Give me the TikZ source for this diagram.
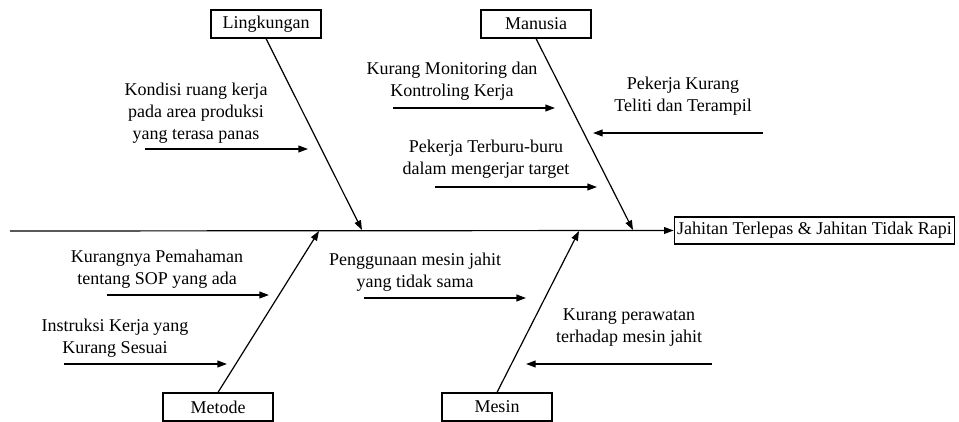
\documentclass[tikz,border=0pt]{standalone}
\usepackage{fontspec}
\setmainfont{Liberation Serif}
\usetikzlibrary{arrows.meta}

\begin{document}
\begin{tikzpicture}[
  x=.5pt,y=-.5pt,font=\fontsize{9}{11}\selectfont,
  category/.style={draw,line width=.6pt,minimum width=55pt,minimum height=14pt,inner sep=2pt},
  effect/.style={category,minimum width=0pt,minimum height=13.5pt,inner xsep=1.5pt},
  cause/.style={align=center,inner sep=0pt},
  bone/.style={line width=.6pt,-{Triangle[length=4.8pt,width=3.4pt]}}
]
\path[use as bounding box] (0,0) rectangle (959,422);

% Head and spine
\node[effect] (effect) at (814.5,230.5) {Jahitan Terlepas \& Jahitan Tidak Rapi};
\coordinate (tail) at (10,231);
\draw[bone] (tail) -- (effect.west);

% Category boxes and main bones
\node[category] (lingkungan) at (266,24) {Lingkungan};
\node[category] (manusia) at (536,24) {Manusia};
\node[category] (metode) at (218,407) {Metode};
\node[category] (mesin) at (497,407) {Mesin};
\coordinate (lingkunganTip) at (362,230);
\coordinate (manusiaTip) at (633,230);
\coordinate (metodeTip) at (319,231);
\coordinate (mesinTip) at (579,231);
\draw[bone] (lingkungan.south) -- (lingkunganTip);
\draw[bone] (manusia.south) -- (manusiaTip);
\draw[bone] (metode.north) -- (metodeTip);
\draw[bone] (mesin.north) -- (mesinTip);

% Causes
\node[cause] (kondisi) at (196,113) {Kondisi ruang kerja\\pada area produksi\\yang terasa panas};
\coordinate (kondisiA) at (145,149);
\coordinate (kondisiB) at (308,149);
\draw[bone] (kondisiA) -- (kondisiB);

\node[cause] (monitoring) at (452,81) {Kurang Monitoring dan\\Kontroling Kerja};
\coordinate (monitoringA) at (393,108);
\coordinate (monitoringB) at (555,108);
\draw[bone] (monitoringA) -- (monitoringB);

\node[cause] (terburu) at (486,159) {Pekerja Terburu-buru\\dalam mengerjar target};
\coordinate (terburuA) at (435,187);
\coordinate (terburuB) at (597,187);
\draw[bone] (terburuA) -- (terburuB);

\node[cause] (teliti) at (683,96) {Pekerja Kurang\\Teliti dan Terampil};
\coordinate (telitiA) at (763,133);
\coordinate (telitiB) at (593,133);
\draw[bone] (telitiA) -- (telitiB);

\node[cause] (pemahaman) at (157,269) {Kurangnya Pemahaman\\tentang SOP yang ada};
\coordinate (pemahamanA) at (107,295);
\coordinate (pemahamanB) at (269,295);
\draw[bone] (pemahamanA) -- (pemahamanB);

\node[cause] (instruksi) at (115,338) {Instruksi Kerja yang\\Kurang Sesuai};
\coordinate (instruksiA) at (64,364);
\coordinate (instruksiB) at (227,364);
\draw[bone] (instruksiA) -- (instruksiB);

\node[cause] (penggunaan) at (415,272) {Penggunaan mesin jahit\\yang tidak sama};
\coordinate (penggunaanA) at (364,298);
\coordinate (penggunaanB) at (526,298);
\draw[bone] (penggunaanA) -- (penggunaanB);

\node[cause] (perawatan) at (629,328) {Kurang perawatan\\terhadap mesin jahit};
\coordinate (perawatanA) at (712,364);
\coordinate (perawatanB) at (526,364);
\draw[bone] (perawatanA) -- (perawatanB);
\end{tikzpicture}
\end{document}
